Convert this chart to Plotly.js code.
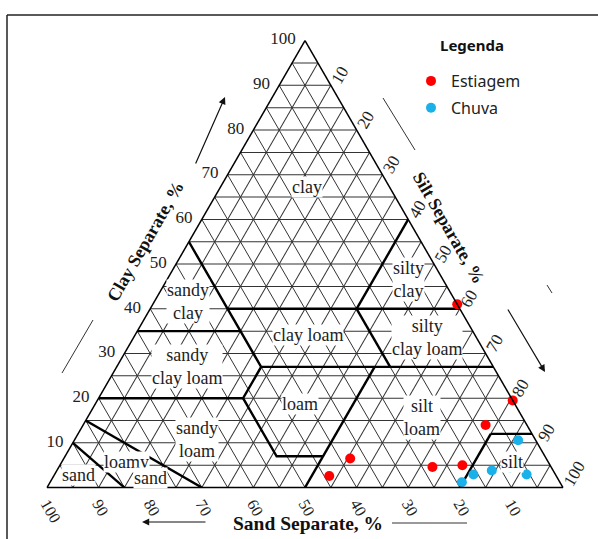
<!DOCTYPE html>
<html>
<head>
<meta charset="utf-8">
<script src="https://cdn.plot.ly/plotly-3.0.1.min.js"></script>
<style>html,body{margin:0;padding:0;background:#fff;}#chart{width:598px;height:539px;}</style>
</head>
<body>
<div id="chart"></div>
<script>
// Data points: [clay, sand, silt] in %
var estiagemClay = [41, 19.5, 14, 5, 4.6, 6.5, 2.6];
var estiagemSand = [0, 0, 8, 17, 23, 38, 44];
var estiagemSilt = [59, 80.5, 78, 78, 72.4, 55.5, 53.4];

var chuvaClay = [1.2, 2.9, 3.8, 4.5, 2.9, 10.6];
var chuvaSand = [19, 15.9, 11.9, 8, 5.6, 3.4];
var chuvaSilt = [79.8, 81.2, 84.3, 87.5, 91.5, 86];

// USDA texture class boundaries, each segment as [clay, sand, silt] vertices
var boundaryClay = [[55, 40, 35, 27, 20, 7, 7], [40, 40], [35, 35], [20, 20], [60, 40], [40, 27], [27, 27], [27, 0], [12, 12], [12, 0], [15, 0], [10, 0]];
var boundarySand = [[45, 45, 45, 45, 52, 52, 43], [45, 0], [65, 45], [80, 52], [0, 20], [20, 20], [45, 0], [23, 50], [0, 8], [8, 20], [85, 70], [90, 85]];
var boundarySilt = [[0, 15, 20, 28, 28, 41, 50], [15, 60], [0, 20], [0, 28], [40, 40], [40, 53], [28, 73], [50, 50], [88, 80], [80, 80], [0, 30], [0, 15]];

// Class labels
var classNames = ['clay', 'silty<br>clay', 'sandy<br>clay', 'clay loam', 'silty<br>clay loam', 'sandy<br>clay loam', 'loam', 'silt<br>loam', 'sandy<br>loam', 'loamy', 'sand', 'sand', 'silt'];
var classX = [307, 408, 188, 308, 427, 187, 300, 422, 197, 126, 150, 78, 512];
var classY = [187, 279, 301, 335, 337, 366, 404, 417, 439, 462, 478, 475, 462];

var tickVals = [];
var tickText = [];
for (var v = 0; v <= 100; v += 5) {
  tickVals.push(v);
  tickText.push(v % 10 === 0 && v > 0 ? String(v) : '');
}

var W = 598, H = 539;
function px(x) { return x / W; }
function py(y) { return 1 - y / H; }

var traces = [];
for (var i = 0; i < boundaryClay.length; i++) {
  traces.push({
    type: 'scatterternary', mode: 'lines',
    a: boundaryClay[i], b: boundarySand[i], c: boundarySilt[i],
    line: {color: '#000', width: 2.4},
    showlegend: false, hoverinfo: 'skip', cliponaxis: false
  });
}
traces.push({
  type: 'scatterternary', mode: 'markers', name: 'Estiagem',
  a: estiagemClay, b: estiagemSand, c: estiagemSilt,
  marker: {color: '#ff0000', size: 10},
  cliponaxis: false, legendgroup: 'g1'
});
traces.push({
  type: 'scatterternary', mode: 'markers', name: 'Chuva',
  a: chuvaClay, b: chuvaSand, c: chuvaSilt,
  marker: {color: '#1ab0ea', size: 10},
  cliponaxis: false, legendgroup: 'g2'
});

var axisCommon = {
  tickmode: 'array', tickvals: tickVals, ticktext: tickText,
  showgrid: true, gridcolor: '#333', gridwidth: 1,
  linecolor: '#000', linewidth: 1.5, ticks: '', ticklen: 0,
  tickfont: {family: 'Liberation Serif', size: 17, color: '#222'},
  title: {text: ''}
};

var annotations = [];
for (var k = 0; k < classNames.length; k++) {
  annotations.push({
    xref: 'paper', yref: 'paper', x: px(classX[k]), y: py(classY[k]),
    text: classNames[k], showarrow: false, bgcolor: '#fff', borderpad: 0,
    font: {family: 'Liberation Serif', size: 18, color: '#222'},
    xanchor: 'center', yanchor: 'middle'
  });
}
var titleFont = {family: 'Liberation Serif', size: 18, color: '#111'};
annotations.push({xref: 'paper', yref: 'paper', x: px(145), y: py(242), xanchor: 'center', yanchor: 'middle', text: '<b>Clay Separate, %</b>', textangle: -60, showarrow: false, font: titleFont});
annotations.push({xref: 'paper', yref: 'paper', x: px(449), y: py(228), xanchor: 'center', yanchor: 'middle', text: '<b>Silt Separate, %</b>', textangle: 60, showarrow: false, font: titleFont});
annotations.push({xref: 'paper', yref: 'paper', x: px(308), y: py(523), xanchor: 'center', yanchor: 'middle', text: '<b>Sand Separate, %</b>', showarrow: false, font: {family: 'Liberation Serif', size: 19.5, color: '#111'}});
annotations.push({xref: 'paper', yref: 'paper', x: px(438), y: py(45), xanchor: 'left', yanchor: 'middle', text: '<b>Legenda</b>', showarrow: false, font: {family: 'Noto Sans', size: 15, color: '#111'}});
// arrows
annotations.push({xref: 'paper', yref: 'paper', x: px(225), y: py(97), ax: -30, ay: 68, axref: 'pixel', ayref: 'pixel', text: '', showarrow: true, arrowhead: 2, arrowsize: 1.2, arrowwidth: 1.2, arrowcolor: '#111'});
annotations.push({xref: 'paper', yref: 'paper', x: px(545), y: py(372), ax: -38, ay: -64, axref: 'pixel', ayref: 'pixel', text: '', showarrow: true, arrowhead: 2, arrowsize: 1.2, arrowwidth: 1.2, arrowcolor: '#111'});
annotations.push({xref: 'paper', yref: 'paper', x: px(142), y: py(522), ax: 65, ay: 0, axref: 'pixel', ayref: 'pixel', text: '', showarrow: true, arrowhead: 2, arrowsize: 1.2, arrowwidth: 1.2, arrowcolor: '#111'});

var shapes = [
  {type: 'line', xref: 'paper', yref: 'paper', x0: px(7), y0: py(15), x1: 1, y1: py(15), line: {color: '#222', width: 1.5}},
  {type: 'line', xref: 'paper', yref: 'paper', x0: px(7), y0: py(15), x1: px(7), y1: 0, line: {color: '#222', width: 1.5}},
  {type: 'line', xref: 'paper', yref: 'paper', x0: px(62), y0: py(373), x1: px(93), y1: py(320), line: {color: '#333', width: 1}},
  {type: 'line', xref: 'paper', yref: 'paper', x0: px(383), y0: py(98), x1: px(415), y1: py(150), line: {color: '#333', width: 1}},
  {type: 'line', xref: 'paper', yref: 'paper', x0: px(547), y0: py(285), x1: px(552), y1: py(293), line: {color: '#333', width: 1}},
  {type: 'line', xref: 'paper', yref: 'paper', x0: px(392), y0: py(523), x1: px(467), y1: py(523), line: {color: '#333', width: 1}}
];

var layout = {
  width: W, height: H,
  margin: {l: 0, r: 0, t: 0, b: 0},
  paper_bgcolor: '#fff',
  showlegend: true,
  legend: {
    x: px(411), y: py(64), xanchor: 'left', yanchor: 'top',
    font: {family: 'Noto Sans', size: 16, color: '#222'},
    traceorder: 'grouped', tracegroupgap: 3, bgcolor: 'rgba(0,0,0,0)'
  },
  ternary: {
    sum: 100,
    domain: {x: [px(47), px(563)], y: [0.046, 0.974]},
    bgcolor: '#fff',
    aaxis: Object.assign({}, axisCommon, {tickangle: 0, ticks: 'outside', ticklen: 6, tickcolor: 'rgba(0,0,0,0)'}),
    baxis: Object.assign({}, axisCommon, {tickangle: 60, tickfont: {family: 'Liberation Serif', size: 16, color: '#222'}}),
    caxis: Object.assign({}, axisCommon, {tickangle: -60})
  },
  annotations: annotations,
  shapes: shapes
};

Plotly.newPlot('chart', traces, layout, {displayModeBar: false, staticPlot: true});
</script>
</body>
</html>
